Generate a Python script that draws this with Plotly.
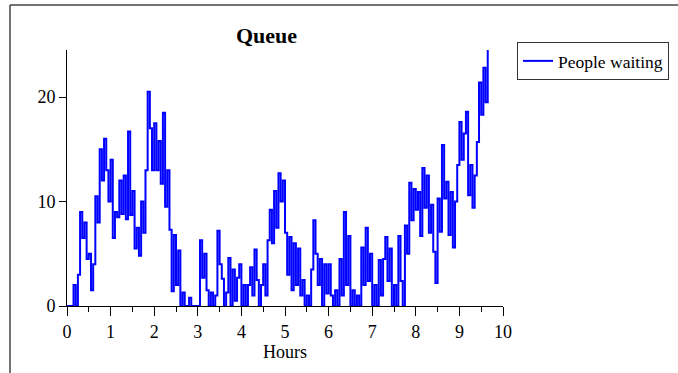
import numpy as np
import plotly.graph_objects as go

# Sampling grid (hours), one reading every 0.05 h
step_hours = 0.05
people_waiting = [
    0, 0, 0, 2, 0, 3, 9, 6.5, 8, 4.5,          # 0.00 - 0.45
    5, 1.5, 4, 10.5, 8, 15, 12, 16, 13, 10,     # 0.50 - 0.95
    14, 6.5, 9, 8.5, 12, 8.8, 12.5, 8.3, 16.7, 8.7,  # 1.00 - 1.45
    11, 5.5, 7.5, 4.8, 10, 7, 13, 20.5, 17, 13,  # 1.50 - 1.95
    17.5, 13, 15.8, 11.7, 18.5, 9.5, 13, 7.3, 1.4, 6.8,  # 2.00 - 2.45
    2, 5.3, 0, 1.3, 0, 0, 0.8, 0, 0, 0,         # 2.50 - 2.95
    0, 6.3, 2.7, 5, 1.5, 0, 1.3, 0, 1, 7.2,     # 3.00 - 3.45
    4, 2.6, 0, 1.3, 4.6, 0, 3.5, 0.5, 2.7, 4,   # 3.50 - 3.95
    0, 2, 0, 2, 3.7, 1, 5.4, 2.5, 0, 2,         # 4.00 - 4.45
    4, 1, 6.3, 9.2, 6, 11, 7.5, 12.7, 10, 12,   # 4.50 - 4.95
    7, 3, 6.6, 1.5, 6, 2, 5.5, 1, 2.5, 0,       # 5.00 - 5.45
    1, 0, 3.5, 8.2, 5, 2, 4.5, 0, 4, 1.2,       # 5.50 - 5.95
    4, 1, 0, 1.5, 0, 4.5, 1, 9, 2, 6.7,         # 6.00 - 6.45
    0, 1.5, 0, 1, 0, 5.6, 2, 7.5, 2.4, 5,       # 6.50 - 6.95
    0, 2, 0, 4.4, 1, 4.5, 6.6, 2.4, 5.5, 0,     # 7.00 - 7.45
    2, 0, 6.7, 2.4, 0, 7.7, 5, 11.8, 8.2, 11.2,  # 7.50 - 7.95
    9.2, 10.9, 6.7, 13.2, 9.4, 12.5, 7, 9.7, 5.2, 2.2,  # 8.00 - 8.45
    10.3, 7.1, 15.4, 10.3, 11.9, 6.8, 10.9, 5.6, 10, 13.5,  # 8.50 - 8.95
    17.6, 14, 16.5, 18.6, 10.6, 13.5, 9.4, 12.5, 15.7, 21.4,  # 9.00 - 9.45
    18.3, 22.8, 19.5, 24.5,                     # 9.50 - 9.65
]
hours = np.round(np.arange(len(people_waiting)) * step_hours, 3)

x_ticks = [0, 1, 2, 3, 4, 5, 6, 7, 8, 9, 10]
y_ticks = [0, 10, 20]

FONT = "Liberation Serif"

fig = go.Figure()
fig.add_trace(go.Scatter(
    x=hours, y=people_waiting, mode="lines", name="People waiting",
    line=dict(color="#0000FF", width=2, shape="hv"),
))

# plot area: x 67..503 px, y 50..306 px
L, R, T, B = 67, 503, 50, 306
W, H = 678, 373

def px_x(p):
    return (p - L) / (R - L)

def px_y(p):
    return (B - p) / (B - T)

fig.update_layout(
    width=W, height=H,
    margin=dict(l=L, r=W - R, t=T, b=H - B, pad=0, autoexpand=False),
    paper_bgcolor="white", plot_bgcolor="white",
    font=dict(family=FONT, size=18, color="black"),
    showlegend=True,
    legend=dict(
        xref="container", yref="container",
        x=517 / W, y=1 - 42 / H, xanchor="left", yanchor="top",
        bordercolor="#333333", borderwidth=1, bgcolor="white",
        font=dict(family=FONT, size=17.5, color="black"),
        itemwidth=30, tracegroupgap=0,
    ),
    xaxis=dict(
        range=[0, 10], tickvals=x_ticks, ticktext=[str(v) for v in x_ticks],
        showline=True, linecolor="black", linewidth=1,
        ticks="outside", ticklen=9, tickcolor="black", tickwidth=1,
        minor=dict(dtick=0.5, ticks="outside", ticklen=5, tickcolor="black", tickwidth=1),
        showgrid=False, zeroline=False, automargin=False,
        tickfont=dict(family=FONT, size=18),
        title=dict(text="Hours", font=dict(family=FONT, size=18), standoff=0),
    ),
    yaxis=dict(
        range=[0, 24.5], tickvals=y_ticks, ticktext=[str(v) for v in y_ticks],
        showline=True, linecolor="black", linewidth=1,
        ticks="outside", ticklen=7, tickcolor="black", tickwidth=1,
        showgrid=False, zeroline=False, automargin=False,
        tickfont=dict(family=FONT, size=18),
    ),
    annotations=[dict(
        text="<b>Queue</b>", xref="paper", yref="paper",
        x=px_x(266), y=px_y(35), xanchor="center", yanchor="middle",
        showarrow=False, font=dict(family=FONT, size=22, color="black"),
    )],
    shapes=[
        dict(type="line", xref="paper", yref="paper",
             x0=px_x(10), x1=px_x(10), y0=px_y(5), y1=px_y(373),
             line=dict(color="#444444", width=1.5)),
        dict(type="line", xref="paper", yref="paper",
             x0=px_x(10), x1=px_x(678), y0=px_y(5), y1=px_y(5),
             line=dict(color="#444444", width=1.5)),
    ],
)

fig.write_html("out.html")
